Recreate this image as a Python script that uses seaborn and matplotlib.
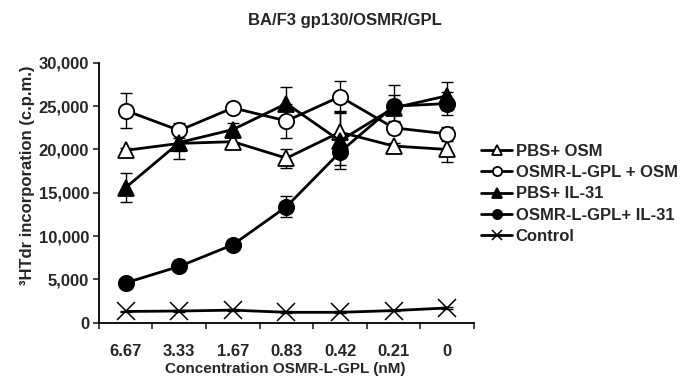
import numpy as np
import pandas as pd
import matplotlib
matplotlib.use('Agg')
import matplotlib.pyplot as plt
import seaborn as sns

sns.set_theme(style="ticks")
plt.rcParams['font.family'] = ['Liberation Sans', 'DejaVu Sans']
plt.rcParams['font.weight'] = 'bold'

conc_labels = ['6.67', '3.33', '1.67', '0.83', '0.42', '0.21', '0']

pbs_osm = [19900, 20700, 20900, 19000, 22000, 20400, 20000]
pbs_osm_err = [300, 1800, 500, 1100, 2400, 400, 1400]

osmr_osm = [24500, 22200, 24800, 23300, 26100, 22500, 21800]
osmr_osm_err = [2000, 900, 600, 2000, 1800, 700, 800]

pbs_il31 = [15600, 20800, 22300, 25300, 21000, 24800, 26200]
pbs_il31_err = [1700, 1000, 700, 1900, 3200, 1500, 1600]

osmr_il31 = [4600, 6500, 9000, 13400, 19700, 25000, 25300]
osmr_il31_err = [300, 400, 400, 1200, 1500, 2400, 1300]

control = [1300, 1350, 1450, 1200, 1200, 1400, 1700]
control_err = [100, 100, 100, 100, 100, 100, 100]

series = [
    ('PBS+ OSM', pbs_osm, pbs_osm_err, '^', 'white'),
    ('OSMR-L-GPL + OSM', osmr_osm, osmr_osm_err, 'o', 'white'),
    ('PBS+ IL-31', pbs_il31, pbs_il31_err, '^', 'black'),
    ('OSMR-L-GPL+ IL-31', osmr_il31, osmr_il31_err, 'o', 'black'),
    ('Control', control, control_err, 'x', 'black'),
]

fig = plt.figure(figsize=(6.82, 3.81), dpi=100)
ax = fig.add_axes([0.145, 0.153, 0.55, 0.682])

xpos = np.arange(len(conc_labels))
for name, vals, err, mk, fc in series:
    df = pd.DataFrame({'x': xpos, 'y': vals})
    ax.errorbar(xpos, vals, yerr=err, fmt='none', ecolor='black',
                elinewidth=1.0, capsize=4.5, capthick=1.0, zorder=2)
    sns.lineplot(data=df, x='x', y='y', ax=ax, color='black', linewidth=2.0,
                 marker=mk, markersize=11 if mk != 'x' else 13,
                 markerfacecolor=fc, markeredgecolor='black',
                 markeredgewidth=1.3 if mk != 'x' else 1.1, label=name, zorder=3)

ax.set_xlim(-0.5, len(conc_labels) - 0.5)
ax.set_ylim(0, 30000)
ax.set_yticks(np.arange(0, 30001, 5000))
ax.set_yticklabels([f'{v:,}' for v in range(0, 30001, 5000)])
ax.set_xticks(xpos)
ax.set_xticklabels(conc_labels)
ax.set_xticks(np.arange(-0.5, len(conc_labels)), minor=True)
ax.tick_params(axis='x', which='major', length=0, pad=15)
ax.tick_params(axis='x', which='minor', length=4, width=1.2, direction='out')
ax.tick_params(axis='y', length=4, width=1.2, direction='out', pad=3)
ax.tick_params(labelsize=12)
for lbl in ax.get_xticklabels() + ax.get_yticklabels():
    lbl.set_fontweight('bold')

for s in ['top', 'right']:
    ax.spines[s].set_visible(False)
for s in ['left', 'bottom']:
    ax.spines[s].set_linewidth(1.3)
    ax.spines[s].set_color('black')

ax.set_xlabel('Concentration OSMR-L-GPL (nM)', fontsize=11, fontweight='bold')
ax.set_ylabel('\u00b3HTdr incorporation (c.p.m.)', fontsize=12, fontweight='bold')
ax.xaxis.set_label_coords(0.496, -0.152)
ax.yaxis.set_label_coords(-0.171, 0.568)

fig.text(0.506, 0.945, 'BA/F3 gp130/OSMR/GPL', ha='center', va='center',
         fontsize=12, fontweight='bold')

leg = ax.legend(loc='center left', bbox_to_anchor=(0.684, 0.491),
                bbox_transform=fig.transFigure, frameon=False,
                markerscale=0.6, handlelength=1.85, handletextpad=0.2,
                labelspacing=0.38, prop={'size': 12, 'weight': 'bold'})

fig.savefig('out.png', dpi=100)
